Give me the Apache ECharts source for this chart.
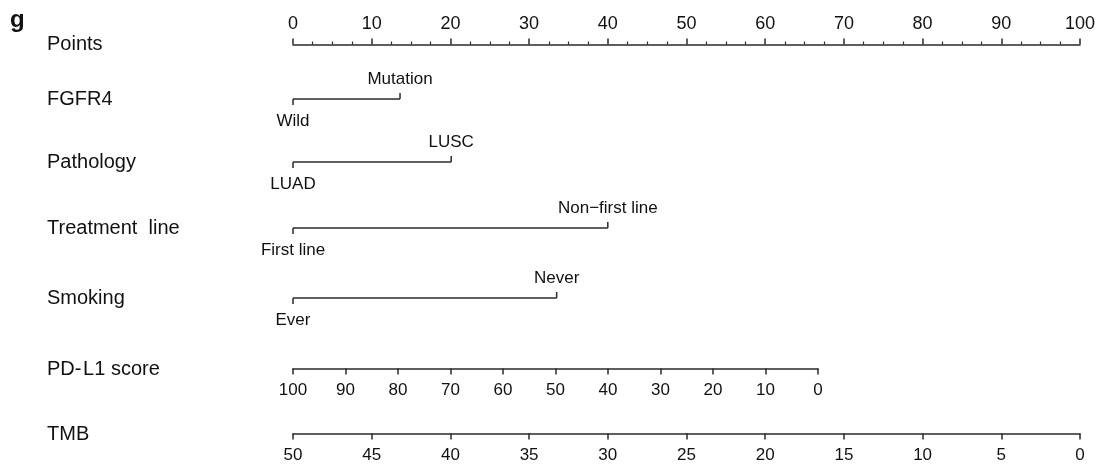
<!DOCTYPE html>
<html lang="en">
<head>
	<meta charset="UTF-8">
	<title>Nomogram</title>
	<script src="https://cdn.jsdelivr.net/npm/echarts@6/dist/echarts.min.js"></script>
	<style>
		html, body { margin: 0; padding: 0; background: #fff; }
		#main { width: 1099px; height: 467px; }
	</style>
</head>
<body>
	<div id="main"></div>
	<script>
		// values
		var rowNames = ['Points', 'FGFR4', 'Pathology', 'Treatment  line', 'Smoking', 'PD-\u200AL1 score', 'TMB'];
		var pointsRange = [0, 100];

		var fgfr4Levels = ['Wild', 'Mutation'];
		var fgfr4Points = [0, 13.6];
		var pathologyLevels = ['LUAD', 'LUSC'];
		var pathologyPoints = [0, 20.1];
		var treatmentLevels = ['First line', 'Non\u2212first line'];
		var treatmentPoints = [0, 40];
		var smokingLevels = ['Ever', 'Never'];
		var smokingPoints = [0, 33.5];

		var pdl1Range = [0, 100];      // 100 -> 0 points, 0 -> pdl1MaxPoints
		var pdl1MaxPoints = 66.7;
		var tmbRange = [0, 50];        // 50 -> 0 points, 0 -> 100 points

		// layout
		var left = 293, fullWidth = 787;
		var rowY = [44, 99, 162, 228, 298, 369, 434];
		var ink = '#2a2a2a';
		var textCol = '#111';
		var font = 'Liberation Sans, Arial, sans-serif';

		var myChart = echarts.init(document.getElementById('main'), null, {renderer: 'canvas'});

		var grids = [], xAxes = [], yAxes = [], series = [];

		function hiddenY() {
			return {type: 'value', min: -1, max: 1, show: false, gridIndex: grids.length - 1};
		}

		// Points axis (ticks and labels on top)
		grids.push({left: left, width: fullWidth, top: rowY[0], height: 1});
		xAxes.push({
			gridIndex: 0, type: 'value', position: 'top',
			min: pointsRange[0], max: pointsRange[1], interval: 10,
			axisLine: {show: true, lineStyle: {color: ink, width: 1.5}},
			axisTick: {show: true, length: 6, lineStyle: {color: ink, width: 1.5}},
			minorTick: {show: true, splitNumber: 4, length: 3, lineStyle: {color: ink, width: 1.2}},
			splitLine: {show: false},
			axisLabel: {margin: 11, fontSize: 18, fontFamily: font, color: textCol}
		});
		yAxes.push(hiddenY());

		// categorical rows drawn as brackets
		function bracketRow(levels, pts, y) {
			grids.push({left: left, width: fullWidth, top: y - 10, height: 20});
			var gi = grids.length - 1;
			xAxes.push({gridIndex: gi, type: 'value', min: pointsRange[0], max: pointsRange[1], show: false});
			yAxes.push(hiddenY());
			series.push({
				type: 'custom',
				xAxisIndex: gi,
				yAxisIndex: gi,
				data: pts.map(function (p, i) { return [p, i]; }),
				renderItem: function (params, api) {
					var i = api.value(1);
					var pt = api.coord([api.value(0), 0]);
					var base = api.coord([pts[0], 0]);
					var dir = i === 0 ? 1 : -1;
					var kids = [{
						type: 'line',
						shape: {x1: pt[0], y1: pt[1], x2: pt[0], y2: pt[1] + 6 * dir},
						style: {stroke: ink, lineWidth: 1.5}
					}];
					if (i > 0) {
						kids.push({
							type: 'line',
							shape: {x1: base[0], y1: base[1], x2: pt[0], y2: pt[1]},
							style: {stroke: ink, lineWidth: 1.5}
						});
					}
					kids.push({
						type: 'text',
						x: pt[0],
						y: pt[1] + (i === 0 ? 22 : -20),
						style: {
							text: levels[i], align: 'center', verticalAlign: 'middle',
							fontSize: 17, fontFamily: font, fill: textCol
						}
					});
					return {type: 'group', children: kids};
				}
			});
		}

		bracketRow(fgfr4Levels, fgfr4Points, rowY[1]);
		bracketRow(pathologyLevels, pathologyPoints, rowY[2]);
		bracketRow(treatmentLevels, treatmentPoints, rowY[3]);
		bracketRow(smokingLevels, smokingPoints, rowY[4]);

		// continuous axes below
		function scaleRow(range, interval, widthPts, y) {
			grids.push({left: left, width: fullWidth * widthPts / 100, top: y - 1, height: 1});
			var gi = grids.length - 1;
			xAxes.push({
				gridIndex: gi, type: 'value', position: 'bottom', inverse: true,
				min: range[0], max: range[1], interval: interval,
				axisLine: {show: true, lineStyle: {color: ink, width: 1.5}},
				axisTick: {show: true, length: 6, lineStyle: {color: ink, width: 1.5}},
				splitLine: {show: false},
				axisLabel: {margin: 13, fontSize: 17, fontFamily: font, color: textCol}
			});
			yAxes.push(hiddenY());
		}

		scaleRow(pdl1Range, 10, pdl1MaxPoints, rowY[5]);
		scaleRow(tmbRange, 5, 100, rowY[6]);

		var graphics = rowNames.map(function (n, i) {
			return {
				type: 'text', x: 47, y: rowY[i],
				style: {text: n, fontSize: 20, fontFamily: font, fill: textCol, verticalAlign: 'middle'}
			};
		});
		graphics.push({
			type: 'text', x: 10, y: 20,
			style: {text: 'g', fontSize: 24, fontWeight: 'bold', fontFamily: font, fill: textCol, verticalAlign: 'middle'}
		});

		var option = {
			animation: false,
			backgroundColor: '#fff',
			grid: grids,
			xAxis: xAxes,
			yAxis: yAxes,
			series: series,
			graphic: graphics
		};

		myChart.setOption(option);
	</script>
</body>
</html>
